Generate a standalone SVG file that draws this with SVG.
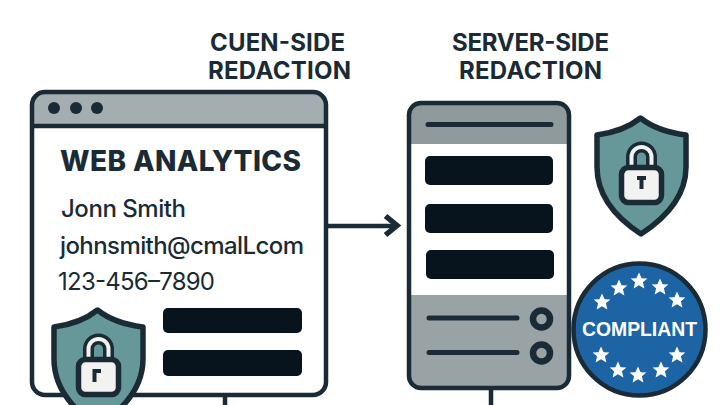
<svg xmlns="http://www.w3.org/2000/svg" width="720" height="405" viewBox="0 0 720 405">
<style>
text{font-family:"Inter","Liberation Sans",sans-serif;fill:#1a2b36}
.h{font-size:24px;font-weight:700}
.t{font-size:24px;font-weight:500}
.o{fill:none;stroke:#1a2b36;stroke-width:4.500}
.bar{fill:#07141d}
.gray{fill:#99a2a4}
.ln{stroke:#1a2b36;stroke-width:5;stroke-linecap:round;fill:none}
.sh{fill:#66989a;stroke:#1a2b36;stroke-width:5.500;stroke-linejoin:round}
.lk{fill:#f2f2f1;stroke:#1a2b36;stroke-width:5.500}
.st{fill:#fff}
.ring{fill:#99a2a4;stroke:#1a2b36;stroke-width:6.500}
</style>
<defs>
<polygon id="star" class="st" points="0,-8.500 2.600,-2.800 8.400,-2.600 3.900,1.300 5.400,7.500 0,4.200 -5.400,7.500 -3.900,1.300 -8.400,-2.600 -2.600,-2.800"/>
<g id="shield">
<path class="sh" d="M640.500 118C628 128 612 133 597 135V167C597 197 618 219 641 234C664 219 686 197 686 167V135C670 133 653 128 640.500 118Z"/>
<path d="M631.500 168V157a10 10 0 0 1 20 0V168" fill="none" stroke="#1a2b36" stroke-width="11"/>
<path d="M631.500 168V157a10 10 0 0 1 20 0V168" fill="none" stroke="#f2f2f1" stroke-width="4"/>
<rect class="lk" x="621.500" y="167.500" width="40" height="35" rx="7"/>
</g>
</defs>
<rect width="720" height="405" fill="#fff"/>
<g id="headings">
<text class="h" x="210" y="51" textLength="135">CUEN-SIDE</text>
<text class="h" x="208" y="79" textLength="143">REDACTION</text>
<text class="h" x="452" y="51" textLength="157">SERVER-SIDE</text>
<text class="h" x="459" y="79" textLength="143">REDACTION</text>
</g>
<g id="connectors">
<path d="M225 397V405M491 390V405M328 226H397" class="o"/>
<path d="M385.500 216L397 225.500L385.500 235" fill="none" stroke="#1a2b36" stroke-width="5.500"/>
</g>
<g id="client-window">
<rect x="32" y="92" width="294" height="303" rx="13" fill="#fff"/>
<path d="M32 126V105a13 13 0 0 1 13-13H313a13 13 0 0 1 13 13V126Z" fill="#a4adaf"/>
<path d="M32 126H326" class="o"/>
<rect x="32" y="92" width="294" height="303" rx="13" class="o"/>
<circle cx="54" cy="108" r="6" fill="#1a2b36"/>
<circle cx="76" cy="108" r="6" fill="#1a2b36"/>
<circle cx="97" cy="108" r="6" fill="#1a2b36"/>
<text x="60" y="171" textLength="241" style="font-size:28px;font-weight:800">WEB ANALYTICS</text>
<text class="t" x="61" y="217" textLength="125">Jonn Smith</text>
<text class="t" x="60" y="254" textLength="244">johnsmith@cmalLcom</text>
<text x="58" y="290" textLength="157" style="font-size:24px;font-weight:400">123-456–7890</text>
<rect class="bar" x="163" y="308" width="139" height="25" rx="5"/>
<rect class="bar" x="163" y="350" width="139" height="26" rx="5"/>
</g>
<g id="client-shield">
<use href="#shield" x="-543" y="192"/>
<path d="M94.500 382V371H101" stroke="#1a2b36" stroke-width="4" fill="none"/>
</g>
<g id="server">
<rect x="409" y="103" width="160" height="285" rx="12" fill="#fff"/>
<path d="M409 144V115a12 12 0 0 1 12-12H557a12 12 0 0 1 12 12V144Z" fill="#8f9a9c"/>
<path d="M409 295H569V376a12 12 0 0 1-12 12H421a12 12 0 0 1-12-12Z" class="gray"/>
<rect x="409" y="103" width="160" height="285" rx="12" class="o"/>
<path class="ln" d="M428 124.500H551M429 318H517M429 352.500H517"/>
<rect class="bar" x="425" y="156" width="128" height="29" rx="5"/>
<rect class="bar" x="425" y="204" width="128" height="29" rx="5"/>
<rect class="bar" x="426" y="250" width="128" height="29" rx="5"/>
<circle cx="541.500" cy="319" r="8.500" class="ring"/>
<circle cx="541.500" cy="353" r="8.500" class="ring"/>
</g>
<g id="server-shield">
<use href="#shield"/>
<path d="M637 178H646M641.500 178V189" stroke="#1a2b36" stroke-width="4" fill="none"/>
</g>
<g id="compliant-badge">
<circle cx="639.500" cy="329.500" r="66" fill="#1c64a4" stroke="#1a2b36" stroke-width="4.500"/>
<use href="#star" x="639" y="281"/>
<use href="#star" x="619" y="288"/>
<use href="#star" x="660" y="287"/>
<use href="#star" x="602" y="302"/>
<use href="#star" x="677" y="300"/>
<use href="#star" x="601" y="355"/>
<use href="#star" x="677" y="355"/>
<use href="#star" x="618" y="370"/>
<use href="#star" x="661" y="370"/>
<use href="#star" x="638" y="375"/>
<text x="582" y="336" textLength="115" lengthAdjust="spacingAndGlyphs" style="font-size:21px;font-weight:700;fill:#fff;font-family:'Liberation Sans',sans-serif">COMPLIANT</text>
</g>
</svg>
